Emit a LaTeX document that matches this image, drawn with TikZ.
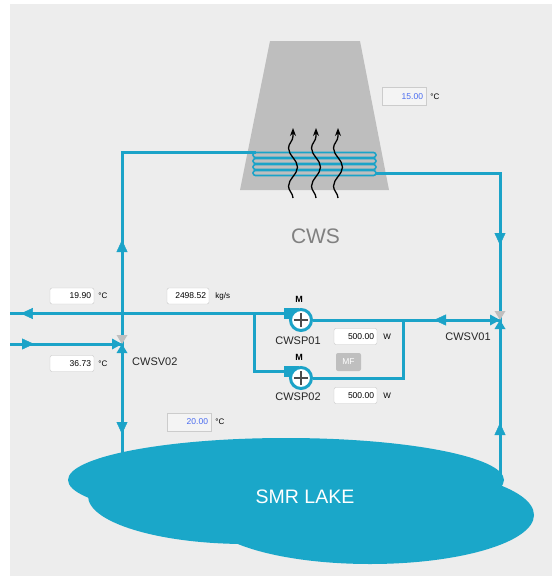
\documentclass[tikz,border=0pt]{standalone}
\usepackage{fontspec}
\setmainfont{Liberation Sans}
\usetikzlibrary{arrows.meta,positioning,decorations.pathmorphing,decorations.markings}
\pgfdeclarelayer{background}
\pgfsetlayers{background,main}

\definecolor{pipecol}{HTML}{1BA3C8}
\definecolor{lakecol}{HTML}{1AA7C9}
\definecolor{bgcol}{HTML}{EDEDED}
\definecolor{towercol}{HTML}{BEBEBE}
\definecolor{setcol}{HTML}{4A6CF0}

\begin{document}
\begin{tikzpicture}[
x=1pt,y=-1pt,
>=Triangle,
pipe/.style={
	draw=pipecol,
	line width=3pt
},
arrowat/.style={
	postaction={decorate,decoration={markings,
	mark=at position #1 with {\arrow[line width=0.4pt,pipecol]{Triangle[length=12pt,width=11pt]}}}}
},
pump/.style={
	circle,
	draw=pipecol,
	line width=3pt,
	fill=white,
	minimum size=21pt,
	inner sep=0pt,
	path picture={
		\draw[line width=1.7pt,black!70]
		([xshift=-7pt]path picture bounding box.center) -- ([xshift=7pt]path picture bounding box.center)
		([yshift=-7pt]path picture bounding box.center) -- ([yshift=7pt]path picture bounding box.center);
	}
},
pumpout/.style={
	fill=pipecol,
	minimum width=15pt,
	minimum height=11pt,
	inner sep=0pt
},
valbox/.style={
	draw=black!22,
	fill=white,
	rounded corners=2pt,
	minimum width=44pt,
	minimum height=16pt,
	inner sep=2pt,
	text width=38pt,
	align=right,
	font=\fontsize{8.5}{9}\selectfont
},
setbox/.style={
	valbox,
	fill=white!40!bgcol,
	draw=black!20,
	rounded corners=0pt,
	text=setcol,
	minimum height=18pt
},
mfbtn/.style={
	fill=black!25,
	text=white,
	rounded corners=2pt,
	minimum width=25pt,
	minimum height=18pt,
	inner sep=1pt,
	font=\fontsize{8.5}{9}\selectfont
},
unit/.style={
	inner sep=1pt,
	font=\fontsize{8}{9}\selectfont
},
tag/.style={
	inner sep=1pt,
	text=black!85,
	font=\fontsize{11}{13}\selectfont
},
motor/.style={
	inner sep=0pt,
	font=\bfseries\fontsize{9}{10}\selectfont
},
valve/.pic={
	\fill[black!25] (-5.5,-9) -- (5.5,-9) -- (0,0) -- cycle;
	\fill[pipecol] (-10,-5.5) -- (-10,5.5) -- (0,0) -- cycle;
	\fill[pipecol] (-5.5,9) -- (5.5,9) -- (0,0) -- cycle;
}
]
\useasboundingbox (0,0) rectangle (552,579);
\begin{pgfonlayer}{background}
\fill[white] (0,0) rectangle (552,579);
\fill[bgcol] (10,4) rectangle (552,576);
\end{pgfonlayer}

% cooling tower with coil and rising heat
\fill[towercol] (270,41) -- (360,41) -- (389,190) -- (240,190) -- cycle;
\foreach \y in {155,161,167,173}
\draw[pipecol,line width=1.6pt,rounded corners=2.5pt] (253,\y-2.5) rectangle (376,\y+2.5);
\foreach \x in {293,316,338}
\draw[black,line width=1.3pt,-{Stealth[length=8pt,width=6pt]},decorate,
	decoration={snake,amplitude=4.5pt,segment length=38pt,post length=7pt}] (\x,198) -- (\x,128);

\node[text=black!50,font=\fontsize{21}{24}\selectfont] (cws) at (315.5,236) {CWS};
\node[setbox] (tair) at (404,96.5) {15.00};
\node[unit,right=3pt of tair] {°C};

\coordinate (coilin) at (256,152.5);
\coordinate (coilout) at (376,173);
\coordinate (v1) at (500,320);
\coordinate (v2) at (122,344);
\coordinate (lakeL) at (122,458);
\coordinate (lakeR) at (500,478);
\coordinate (out) at (10,313.5);
\coordinate (in) at (10,344);
\coordinate (split) at (254,313.5);
\coordinate (j1) at (403,320);

% pumps
\node[pumpout] (p1o) at (291.5,313.5) {};
\node[pump] (p1) at (301,320) {};
\node[pumpout] (p2o) at (291.5,371.5) {};
\node[pump] (p2) at (301,378) {};
\node[motor] (m1) at (299,299) {M};
\node[motor] (m2) at (299,357) {M};

% pipes
\draw[pipe,arrowat=263pt] (p1o.west) -- (out);
\draw[pipe] (split) |- (p2o.west);
\draw[pipe,arrowat=24pt] (in) -- (v2);
\draw[pipe,arrowat=104pt] (v2) |- (coilin);
\draw[pipe,arrowat=90pt] (v2) -- (lakeL);
\draw[pipe,arrowat=196pt] (coilout) -| (v1);
\draw[pipe,arrowat=55pt] (lakeR) -- (v1);
\draw[pipe,arrowat=66pt] (v1) -- (p1.east);
\draw[pipe] (j1) |- (p2.east);

\pic at (v1) {valve};
\pic at (v2) {valve};

% lake
\fill[lakecol] (286,480) ellipse [x radius=218,y radius=42];
\fill[lakecol] (246,496) ellipse [x radius=158,y radius=48];
\fill[lakecol] (370,515) ellipse [x radius=164,y radius=49];
\node[text=white,font=\fontsize{19.5}{22}\selectfont] (lake) at (305,497) {SMR LAKE};

% readings
\node[valbox] (tout) at (72,296) {19.90};
\node[unit,right=3pt of tout] {°C};
\node[valbox,minimum width=42pt,text width=36pt] (flow) at (188,296) {2498.52};
\node[unit,right=5pt of flow] {kg/s};
\node[valbox] (tin) at (72,363.5) {36.73};
\node[unit,right=3pt of tin] {°C};
\node[valbox,minimum width=43pt,text width=37pt] (pw1) at (355.5,336.5) {500.00};
\node[unit,right=5pt of pw1] {W};
\node[valbox,minimum width=43pt,text width=37pt] (pw2) at (355.5,395.5) {500.00};
\node[unit,right=5pt of pw2] {W};
\node[mfbtn] (mf) at (348.5,362) {MF};
\node[setbox] (tlake) at (189,422) {20.00};
\node[unit,right=3pt of tlake] {°C};

\node[tag] (v1lbl) at (468,337) {CWSV01};
\node[tag,anchor=west] (v2lbl) at (131,362) {CWSV02};
\node[tag] (p1lbl) at (298,341) {CWSP01};
\node[tag] (p2lbl) at (298,397) {CWSP02};
\end{tikzpicture}
\end{document}
